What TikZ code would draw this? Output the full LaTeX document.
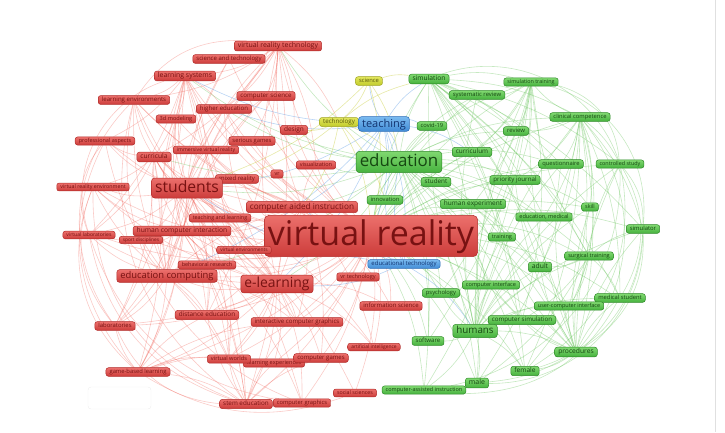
\documentclass[tikz,border=0pt]{standalone}
\usepackage{fontspec}
\setmainfont{Open Sans}
\usepackage{tikz}
\pgfdeclarelayer{background}
\pgfsetlayers{background,main}

\definecolor{redtop}{RGB}{236,112,108}
\definecolor{redbot}{RGB}{204,60,58}
\definecolor{redline}{RGB}{178,44,42}
\definecolor{redtext}{RGB}{120,18,18}
\definecolor{greentop}{RGB}{128,216,112}
\definecolor{greenbot}{RGB}{70,178,62}
\definecolor{greenline}{RGB}{46,138,40}
\definecolor{greentext}{RGB}{22,72,18}
\definecolor{bluetop}{RGB}{122,186,240}
\definecolor{bluebot}{RGB}{66,140,214}
\definecolor{blueline}{RGB}{44,108,182}
\definecolor{bluetext}{RGB}{18,52,112}
\definecolor{yeltop}{RGB}{226,230,92}
\definecolor{yelbot}{RGB}{194,204,44}
\definecolor{yelline}{RGB}{158,164,30}
\definecolor{yeltext}{RGB}{88,88,10}
\definecolor{edgered}{RGB}{240,100,90}
\definecolor{edgegreen}{RGB}{105,196,92}
\definecolor{edgeblue}{RGB}{100,160,230}
\definecolor{edgeyel}{RGB}{200,205,60}

\tikzset{
  fs/.style={font=\fontsize{#1}{#1}\selectfont, text height={0.78*#1pt}, text depth={0.22*#1pt},
    inner xsep=3.6pt, inner ysep={0.08*#1pt+0.9pt}, rounded corners={0.08*#1pt+2pt}},
  kw/.style={rectangle, line width=0.5pt},
  rnode/.style={kw, draw=redline, top color=redtop, bottom color=redbot, text=redtext},
  gnode/.style={kw, draw=greenline, top color=greentop, bottom color=greenbot, text=greentext},
  bnode/.style={kw, draw=blueline, top color=bluetop, bottom color=bluebot, text=bluetext},
  ynode/.style={kw, draw=yelline, top color=yeltop, bottom color=yelbot, text=yeltext},
  redge/.style={draw=edgered, draw opacity=0.34, line width=0.6pt},
  gedge/.style={draw=edgegreen, draw opacity=0.38, line width=0.6pt},
  bedge/.style={draw=edgeblue, draw opacity=0.45, line width=0.6pt},
  yedge/.style={draw=edgeyel, draw opacity=0.45, line width=0.6pt}
}

\begin{document}
\begin{tikzpicture}[x=1pt,y=-1pt]
\useasboundingbox (0,0) rectangle (725,432);
\draw[black!12] (715,0) -- (715,432);
\draw[black!7,rounded corners=3pt] (88,387) rectangle (151,409);

% red cluster
\node (vr) at (371,236) [rnode,fs=34] {virtual reality};
\node (vrtech) at (278,46) [rnode,fs=7] {virtual reality technology};
\node (scitech) at (229,59) [rnode,fs=6] {science and technology};
\node (lsys) at (185,76) [rnode,fs=6.9] {learning systems};
\node (lenv) at (134,100) [rnode,fs=6.1] {learning environments};
\node (csci) at (266,96) [rnode,fs=6.2] {computer science};
\node (hedu) at (224,109) [rnode,fs=6.1] {higher education};
\node (model) at (176,119) [rnode,fs=5.6] {3d modeling};
\node (design) at (294,130) [rnode,fs=6.5] {design};
\node (profasp) at (105,141) [rnode,fs=5.5] {professional aspects};
\node (sgames) at (252,141) [rnode,fs=5.8] {serious games};
\node (ivr) at (206,150) [rnode,fs=5.2] {immersive virtual reality};
\node (curr) at (154,157) [rnode,fs=6.7] {curricula};
\node (visual) at (316,165) [rnode,fs=5.6] {visualization};
\node (vrs) at (277,174) [rnode,fs=5.5] {vr};
\node (mixed) at (237,179) [rnode,fs=6] {mixed reality};
\node (stud) at (187,188) [rnode,fs=15.7] {students};
\node (cai) at (302,207) [rnode,fs=8.2] {computer aided instruction};
\node (vrenv) at (93,187) [rnode,fs=5.3] {virtual reality environment};
\node (tandl) at (220,218) [rnode,fs=5.4] {teaching and learning};
\node (sport) at (141,240) [rnode,fs=4.8] {sport disciplines};
\node (hci) at (182,231) [rnode,fs=6.75] {human computer interaction};
\node (vlab) at (89,235) [rnode,fs=5.1] {virtual laboratories};
\node (venv) at (244,250) [rnode,fs=4.9] {virtual environments};
\node (behav) at (207,265) [rnode,fs=5.5] {behavioral research};
\node (educomp) at (167,276) [rnode,fs=9.4] {education computing};
\node (elearn) at (277,284) [rnode,fs=13.9] {e-learning};
\node (vrtec) at (358,277) [rnode,fs=5.6] {vr technology};
\node (dist) at (207,315) [rnode,fs=6.4] {distance education};
\node (labs) at (115,326) [rnode,fs=5.9] {laboratories};
\node (icg) at (297,322) [rnode,fs=6.1] {interactive computer graphics};
\node (lexp) at (274,363) [rnode,fs=5.6] {learning experiences};
\node (vworlds) at (229,359) [rnode,fs=5.7] {virtual worlds};
\node (cgames) at (321,358) [rnode,fs=6] {computer games};
\node (gbl) at (138,372) [rnode,fs=5.8] {game-based learning};
\node (stem) at (246,404) [rnode,fs=6.3] {stem education};
\node (cgraph) at (302,403) [rnode,fs=5.75] {computer graphics};
\node (infsci) at (391,306) [rnode,fs=6] {information science};
\node (ai) at (374,347) [rnode,fs=4.9] {artificial intelligence};
\node (socsci) at (355,393) [rnode,fs=5.3] {social sciences};

% yellow and blue
\node (science) at (369,81) [ynode,fs=5.8] {science};
\node (tech) at (339,122) [ynode,fs=6.2] {technology};
\node (teach) at (384,124) [bnode,fs=11] {teaching};
\node (edtech) at (404,264) [bnode,fs=6] {educational technology};

% green cluster
\node (sim) at (429,79) [gnode,fs=6.7] {simulation};
\node (sysrev) at (477,95) [gnode,fs=5.9] {systematic review};
\node (covid) at (432,126) [gnode,fs=5.8] {covid-19};
\node (edu) at (399,162) [gnode,fs=16.9] {education};
\node (curric) at (472,152) [gnode,fs=6.4] {curriculum};
\node (simtr) at (531,82) [gnode,fs=5.4] {simulation training};
\node (clin) at (580,117) [gnode,fs=5.8] {clinical competence};
\node (review) at (516,131) [gnode,fs=6] {review};
\node (quest) at (561,164) [gnode,fs=5.8] {questionnaire};
\node (ctrl) at (620,164) [gnode,fs=5.4] {controlled study};
\node (prio) at (515,180) [gnode,fs=6.2] {priority journal};
\node (student) at (436,182) [gnode,fs=6.3] {student};
\node (innov) at (385,200) [gnode,fs=5.8] {innovation};
\node (humexp) at (473,204) [gnode,fs=6.5] {human experiment};
\node (edumed) at (544,217) [gnode,fs=5.6] {education, medical};
\node (skill) at (590,207) [gnode,fs=5.5] {skill};
\node (simul) at (643,229) [gnode,fs=5.9] {simulator};
\node (train) at (502,237) [gnode,fs=5.6] {training};
\node (surg) at (589,256) [gnode,fs=5.6] {surgical training};
\node (adult) at (540,267) [gnode,fs=6.8] {adult};
\node (cint) at (491,285) [gnode,fs=5.6] {computer interface};
\node (psych) at (441,293) [gnode,fs=5.8] {psychology};
\node (medstud) at (620,298) [gnode,fs=5.8] {medical student};
\node (uci) at (569,306) [gnode,fs=5.5] {user-computer interface};
\node (csim) at (522,320) [gnode,fs=6.2] {computer simulation};
\node (humans) at (475,331) [gnode,fs=9.8] {humans};
\node (soft) at (428,341) [gnode,fs=6.1] {software};
\node (proc) at (576,352) [gnode,fs=6.7] {procedures};
\node (female) at (525,371) [gnode,fs=6.6] {female};
\node (male) at (477,383) [gnode,fs=7] {male};
\node (cai2) at (424,390) [gnode,fs=5.5] {computer-assisted instruction};

\begin{pgfonlayer}{background}
% red links
\foreach \b in {vrtech,scitech,lsys,lenv,csci,hedu,model,design,profasp,sgames,curr,ivr,visual,vrs,mixed,stud,cai,vrenv,tandl,hci,vlab,sport,venv,behav,educomp,elearn,vrtec,dist,labs,icg,vworlds,lexp,cgames,gbl,stem,cgraph,infsci,ai,socsci}
  \draw[redge] (vr) to[bend left=12] (\b);
\foreach \b in {vrtech,scitech,lsys,lenv,csci,hedu,model,profasp,curr,ivr,mixed,cai,vrenv,tandl,hci,vlab,sport,venv,behav,educomp,elearn,dist,labs,icg,vworlds,gbl,stem,cgraph,ai,socsci}
  \draw[redge] (stud) to[bend left=12] (\b);
\foreach \b in {vrtech,lsys,lenv,hedu,curr,ivr,cai,vrenv,tandl,hci,vlab,educomp,dist,labs,icg,vworlds,lexp,cgames,gbl,stem,cgraph,infsci,ai}
  \draw[redge] (elearn) to[bend left=12] (\b);
\foreach \b in {vrtech,scitech,lsys,lenv,csci,hedu,model,profasp,curr,cai,vrenv,hci,vlab,sport,behav,dist,labs,icg,vworlds,gbl,stem}
  \draw[redge] (educomp) to[bend left=12] (\b);
\foreach \b in {vrtech,lsys,lenv,hedu,curr,ivr,visual,hci,tandl,venv,dist,icg,vworlds,cgames,infsci,ai}
  \draw[redge] (cai) to[bend left=12] (\b);
\foreach \b in {vrtech,lsys,csci,model,curr,vrenv,vlab,sport,venv,behav,labs,icg,vworlds,gbl,stem,cgraph}
  \draw[redge] (hci) to[bend left=12] (\b);
\foreach \b in {scitech,lsys,lenv,csci,hedu,curr,sgames,design,dist,stem,visual,tech}
  \draw[redge] (vrtech) to[bend left=12] (\b);
\foreach \b in {lenv,hedu,model,curr,profasp,ivr,vlab,dist,labs,vworlds}
  \draw[redge] (lsys) to[bend left=12] (\b);
\foreach \b in {lenv,profasp,vrenv,vlab,labs,dist,gbl,stem}
  \draw[redge] (curr) to[bend left=12] (\b);
\foreach \b in {dist,labs,vworlds,lexp,stem,icg}
  \draw[redge] (gbl) to[bend left=12] (\b);
\foreach \b in {dist,vworlds,icg,cgraph,cgames,lexp}
  \draw[redge] (stem) to[bend left=12] (\b);
% outer red arcs
\draw[redge] (vrenv) to[bend right=35] (stem);
\draw[redge] (vrenv) to[bend right=30] (labs);
\draw[redge] (vrenv) to[bend right=35] (gbl);
\draw[redge] (vlab) to[bend right=30] (stem);
\draw[redge] (vlab) to[bend right=30] (cgraph);
\draw[redge] (profasp) to[bend right=35] (gbl);
\draw[redge] (lenv) to[bend right=40] (labs);
\draw[redge] (labs) to[bend right=30] (stem);
\draw[redge] (gbl) to[bend right=25] (socsci);
\draw[redge] (profasp) to[bend right=30] (vlab);
\draw[redge] (lenv) to[bend right=40] (cgraph);
\draw[redge] (lenv) to[bend right=35] (stem);
\draw[redge] (lsys) to[bend right=45] (vlab);
\draw[redge] (vrtech) to[bend right=30] (lenv);

% green links
\foreach \b in {sim,sysrev,covid,edu,curric,simtr,clin,review,prio,student,innov,humexp,edumed,train,surg,adult,cint,psych,uci,csim,humans,soft,proc,female,male,cai2,skill,simul,medstud,quest,ctrl}
  \draw[gedge] (vr) to[bend left=12] (\b);
\foreach \b in {sim,sysrev,covid,curric,simtr,clin,review,prio,student,innov,humexp,edumed,train,surg,adult,cint,psych,uci,csim,humans,soft,proc,female,male,cai2,skill,quest}
  \draw[gedge] (edu) to[bend left=12] (\b);
\foreach \b in {sim,sysrev,simtr,clin,review,quest,ctrl,prio,humexp,edumed,skill,simul,train,surg,adult,cint,psych,medstud,uci,csim,soft,proc,female,male,cai2}
  \draw[gedge] (humans) to[bend left=12] (\b);
\foreach \b in {simtr,clin,review,quest,ctrl,prio,edumed,skill,simul,train,surg,adult,medstud,csim,proc,female,male}
  \draw[gedge] (sim) to[bend left=12] (\b);
\foreach \b in {simtr,review,quest,ctrl,prio,edumed,skill,simul,surg,adult,medstud,uci,proc,female,male}
  \draw[gedge] (clin) to[bend left=12] (\b);
\foreach \b in {simtr,quest,ctrl,prio,skill,simul,train,surg,adult,cint,uci,csim,female,male,medstud}
  \draw[gedge] (proc) to[bend left=12] (\b);
\foreach \b in {simtr,skill,simul,ctrl,medstud,uci,csim,adult,female,male}
  \draw[gedge] (surg) to[bend left=12] (\b);
\foreach \b in {sysrev,review,prio,humexp,student,curric,psych,soft,cai2,csim}
  \draw[gedge] (simtr) to[bend left=12] (\b);
\foreach \b in {stud,elearn,educomp,cai,vrtech,hedu,curr,lsys,design,visual}
  \draw[gedge] (edu) to[bend left=12] (\b);
% outer green arcs
\draw[gedge] (ctrl) to[bend left=20] (simul);
\draw[gedge] (ctrl) to[bend left=30] (medstud);
\draw[gedge] (simul) to[bend left=30] (proc);
\draw[gedge] (simul) to[bend left=45] (male);
\draw[gedge] (simtr) to[bend left=35] (ctrl);
\draw[gedge] (ctrl) to[bend left=35] (female);
\draw[gedge] (medstud) to[bend left=30] (cai2);
\draw[gedge] (simtr) to[bend left=40] (simul);
\draw[gedge] (clin) to[bend left=40] (proc);
\draw[gedge] (ctrl) to[bend left=40] (cai2);
\draw[gedge] (simul) to[bend left=35] (female);
\draw[gedge] (sim) to[bend left=45] (ctrl);

% blue and yellow links
\foreach \b in {vr,edu,stud,elearn,educomp,cai,tech,science,sim,edtech,curric,hedu,lsys,innov,covid}
  \draw[bedge] (teach) to[bend left=12] (\b);
\foreach \b in {vr,edu,elearn,cai,stud,innov,humans}
  \draw[bedge] (edtech) to[bend left=12] (\b);
\foreach \b in {vr,edu,stud,cai,design,innov,sim}
  \draw[yedge] (tech) to[bend left=12] (\b);
\foreach \b in {vr,edu,tech,stud,sim}
  \draw[yedge] (science) to[bend left=12] (\b);
\end{pgfonlayer}
\end{tikzpicture}
\end{document}
